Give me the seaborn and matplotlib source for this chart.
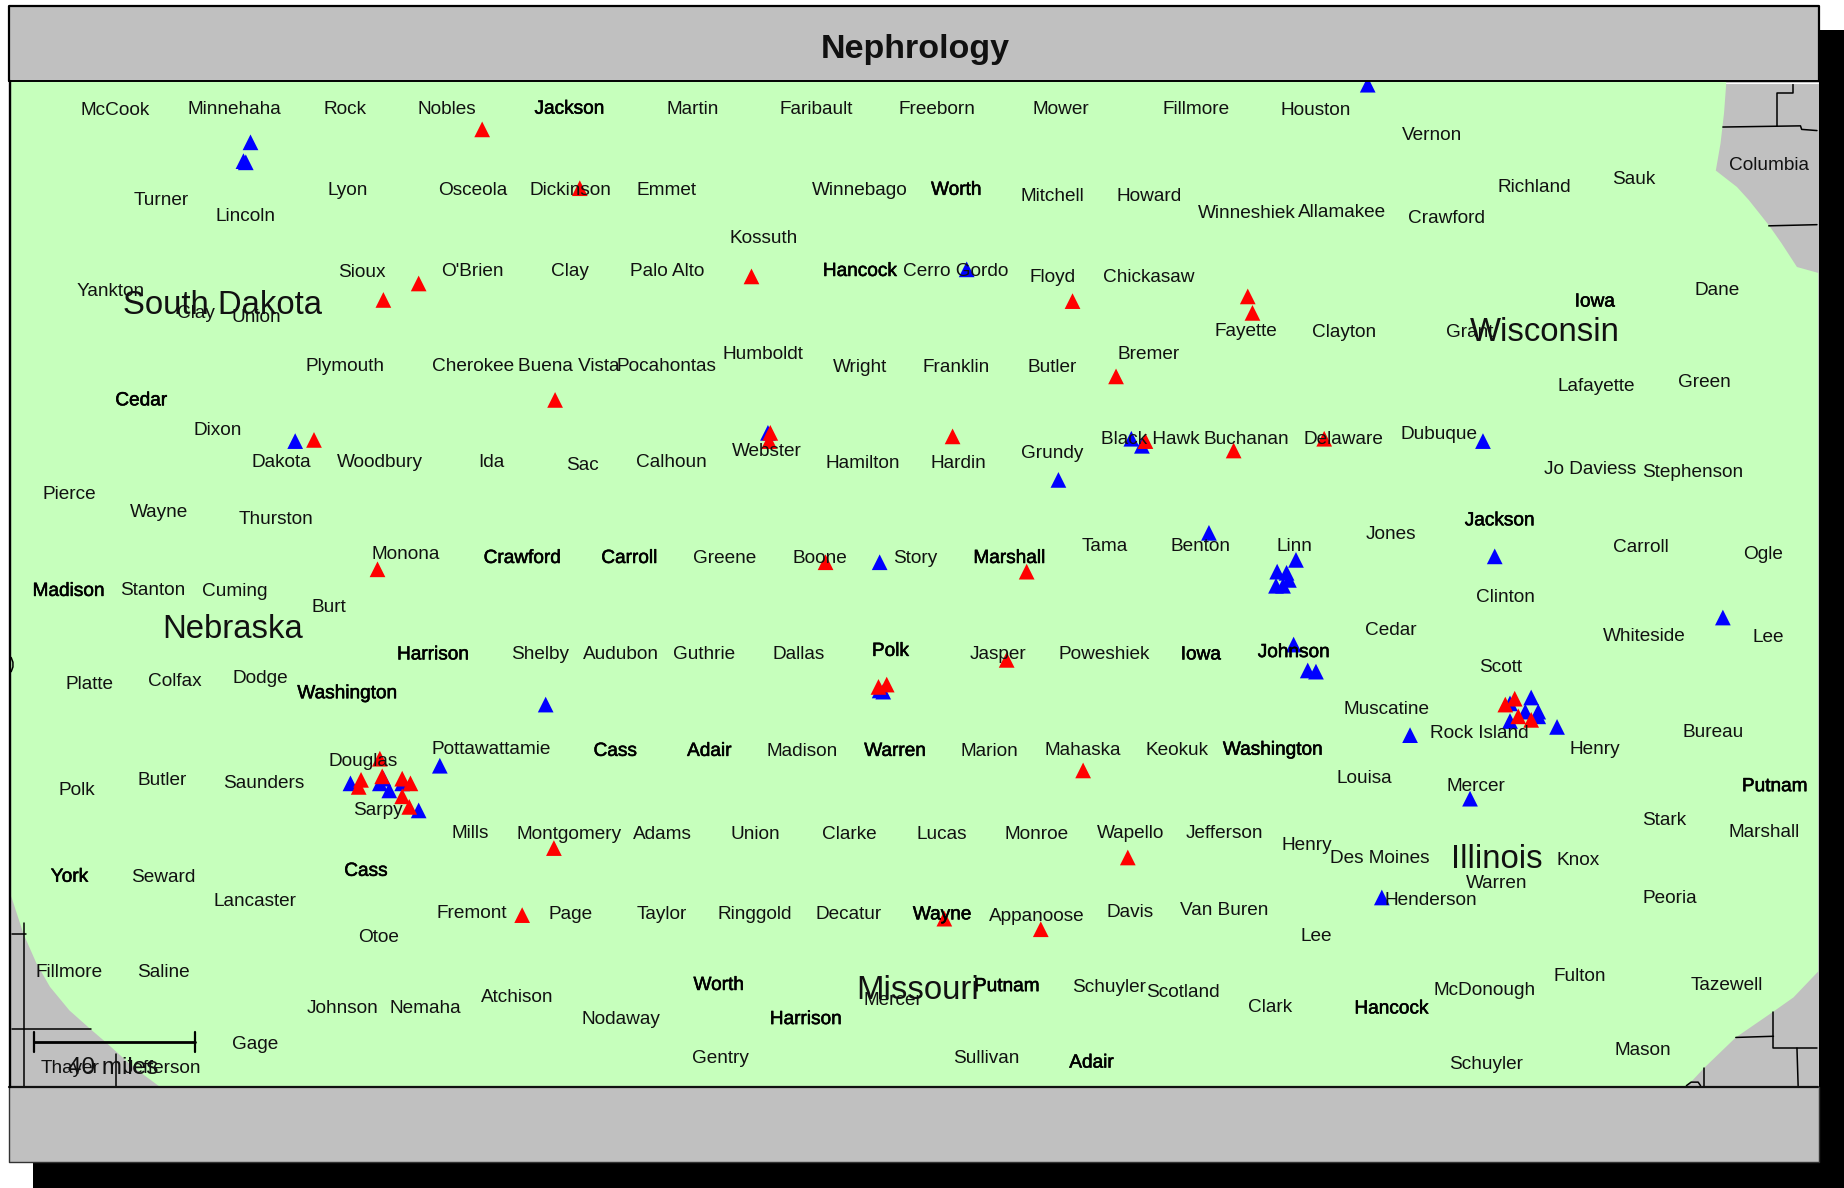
import matplotlib
matplotlib.use('Agg')
import matplotlib.pyplot as plt
import matplotlib.patheffects as pe
import pandas as pd
import seaborn as sns

title = 'Nephrology'

# map positions at 1568x1010
county_labels = [
    ('McCook',98,92),('Minnehaha',199,91),('Rock',293,91),('Nobles',380,91),('Martin',589,91),
    ('Faribault',694,91),('Freeborn',797,91),('Mower',902,91),('Fillmore',1017,91),('Houston',1119,92),
    ('Vernon',1218,113),('Columbia',1504,139),('Sauk',1389,151),('Richland',1305,158),('Crawford',1230,184),
    ('Allamakee',1141,179),('Winneshiek',1060,180),('Howard',977,165),('Mitchell',895,165),('Winnebago',731,160),
    ('Emmet',567,160),('Dickinson',485,160),('Osceola',402,160),('Lyon',296,160),('Turner',137,169),
    ('Lincoln',209,182),('Kossuth',649,201),('Yankton',94,246),('Clay',167,265),('Union',218,268),
    ('Sioux',308,230),("O'Brien",402,229),('Clay',485,229),('Palo Alto',567,229),('Cerro Gordo',813,229),
    ('Floyd',895,234),('Chickasaw',977,234),('Fayette',1059,280),('Clayton',1143,281),('Grant',1250,281),
    ('Dane',1460,245),('Green',1449,323),('Lafayette',1357,327),('Bremer',977,300),('Humboldt',649,300),
    ('Plymouth',293,310),('Cherokee',402,310),('Buena Vista',484,310),('Pocahontas',567,310),('Wright',731,311),
    ('Franklin',813,311),('Butler',895,311),('Dixon',185,364),('Black Hawk',978,372),('Buchanan',1060,372),
    ('Delaware',1142,372),('Dubuque',1224,368),('Jo Daviess',1352,397),('Stephenson',1439,400),('Grundy',895,384),
    ('Webster',652,382),('Hamilton',734,392),('Hardin',815,392),('Calhoun',571,391),('Sac',495,394),
    ('Ida',418,391),('Woodbury',323,391),('Dakota',239,391),('Pierce',59,419),('Wayne',135,434),
    ('Thurston',235,440),('Jones',1183,453),('Linn',1101,463),('Benton',1021,463),('Tama',939,463),
    ('Story',778,473),('Boone',697,473),('Greene',616,473),('Monona',345,470),('Carroll',1395,464),
    ('Ogle',1499,470),('Stanton',130,500),('Cuming',200,501),('Burt',280,515),('Clinton',1280,506),
    ('Whiteside',1398,539),('Lee',1504,540),('Cedar',1183,534),('Shelby',459,555),('Audubon',528,555),
    ('Guthrie',599,555),('Dallas',679,555),('Jasper',849,555),('Poweshiek',939,555),('Scott',1276,566),
    ('Platte',76,580),('Colfax',149,578),('Dodge',221,575),('Muscatine',1179,601),('Rock Island',1258,622),
    ('Bureau',1457,621),('Henry',1356,635),('Pottawattamie',418,635),('Madison',682,637),('Marion',841,637),
    ('Mahaska',921,636),('Keokuk',1001,636),('Douglas',309,646),('Butler',138,662),('Polk',65,670),
    ('Saunders',224,664),('Louisa',1160,660),('Mercer',1255,667),('Sarpy',321,687),('Stark',1415,696),
    ('Marshall',1500,706),('Mills',400,707),('Montgomery',484,708),('Adams',563,708),('Union',642,708),
    ('Clarke',722,708),('Lucas',801,708),('Monroe',881,708),('Wapello',961,707),('Jefferson',1041,707),
    ('Henry',1111,717),('Des Moines',1173,728),('Knox',1342,730),('Warren',1273,749),('Seward',139,744),
    ('Lancaster',217,765),('Henderson',1217,764),('Peoria',1420,762),('Fremont',401,775),('Page',485,776),
    ('Taylor',563,776),('Ringgold',642,776),('Decatur',722,776),('Appanoose',882,777),('Davis',961,774),
    ('Van Buren',1041,772),('Lee',1119,794),('Otoe',322,795),('Fillmore',59,825),('Saline',139,825),
    ('Fulton',1343,828),('Tazewell',1468,836),('McDonough',1262,840),('Schuyler',943,838),('Scotland',1006,842),
    ('Mercer',759,849),('Atchison',440,846),('Clark',1080,855),('Johnson',291,856),('Nemaha',362,856),
    ('Nodaway',528,865),('Gage',217,886),('Mason',1397,891),('Sullivan',839,898),('Gentry',613,898),
    ('Schuyler',1264,903),('Thayer',60,907),('Jefferson',138,907),
]
# these come out darker in the original, names that exist in two states
double_labels = [
    ('Jackson',484,91),('Worth',813,160),('Hancock',731,229),('Iowa',1356,255),('Cedar',120,339),
    ('Jackson',1275,441),('Marshall',858,473),('Carroll',535,473),('Crawford',444,473),('Madison',58,501),
    ('Harrison',368,555),('Polk',757,552),('Iowa',1021,555),('Johnson',1100,553),('Washington',295,588),
    ('Cass',523,637),('Adair',603,637),('Warren',761,637),('Washington',1082,636),('Putnam',1509,667),
    ('York',59,744),('Cass',311,739),('Wayne',801,776),('Worth',611,836),('Putnam',856,837),
    ('Hancock',1183,856),('Harrison',685,865),('Adair',928,902),
]
state_labels = [('South Dakota',189,258),('Nebraska',198,533),('Wisconsin',1314,281),
                ('Illinois',1273,729),('Missouri',780,840)]

red_x = [410,493,356,326,639,912,1061,1065,949,472,267,655,654,810,974,1049,1126,321,702,873,856,754,747,921,471,959,444,803,885]
red_y = [110,160,241,255,235,256,252,266,320,340,374,368,375,371,375,383,373,484,478,486,561,582,584,655,721,729,778,781,790]
blue_x = [1163,213,207,209,822,251,653,962,971,900,1261,1028,748,1271,1102,1086,1094,1096,1091,1085,1100,1112,1119,1465,464,748,751,1199,1250,1175,1284,1302,1308,1297,1308,1284,1324]
blue_y = [72,121,137,138,229,375,368,373,379,408,375,453,478,473,476,486,487,493,498,498,548,570,571,525,599,587,588,625,679,763,598,593,605,605,609,613,618]
# Omaha and Quad Cities clusters, red on top of part of the blue
omaha_blue_x = [326,298,323,331,342,356,374]
omaha_blue_y = [662,666,666,672,666,689,651]
omaha_red_x = [323,307,305,325,342,349,342,348]
omaha_red_y = [645,663,669,660,662,666,677,686]
quad_red_x = [1288,1280,1291,1302]
quad_red_y = [594,599,609,612]

grey_lines = [
    [(1525,71),(1525,79),(1511,79),(1511,107)],
    [(1465,108),(1531,107),(1532,110),(1545,111)],
    [(1504,192),(1545,191)],
    [(1508,860),(1508,891),(1545,891)],
    [(1476,882),(1508,881)],
    [(1528,891),(1529,923)],
    [(1449,908),(1449,923)],
    [(1434,923),(1438,920),(1444,920),(1446,923)],
    [(20.4,785),(20.4,924)],
    [(10,794),(22,794)],
    [(10,875),(77,875)],
    [(99,896),(99,924)],
    [(9.5,559),(11,563),(11,567),(9.5,571)],
]
green_outline = [
    (9.5,69),(1468,69),(1466,96),(1463,122),(1459,145),(1477,159),(1487,170),(1504.5,192),(1515,207),(1528,227),(1546,232),
    (1546,826),(1525,848),(1508,860),(1476,882),(1449,908),(1434,924),(136,924),(113,907),(91,887),(77,875),
    (59,859),(42.5,839),(31,819),(20,794),(9.5,762),
]

sns.set_theme(style='white')
plt.rcParams['font.family'] = ['Liberation Sans', 'DejaVu Sans']

fig = plt.figure(figsize=(18.44, 11.88), dpi=100)
ax = fig.add_axes([0, 0, 1, 1])
ax.set_xlim(0, 1568)
ax.set_ylim(1010, 0)
ax.axis('off')

# drop shadow, then grey frame, then the map
ax.fill_between([28, 1568], 25.5, 1010, color='black', lw=0, zorder=0)
ax.fill_between([8, 1546.5], 5, 988, color='#c0c0c0', lw=0, zorder=1)
xs, ys = zip(*green_outline)
ax.fill(xs, ys, color='#c6ffbc', lw=0, zorder=2)
for line in grey_lines:
    lx, ly = zip(*line)
    ax.plot(lx, ly, color='black', lw=1.1, zorder=3)
ax.plot([1468, 1546], [70.2, 70.2], color='white', lw=0.8, zorder=3)

pts = pd.DataFrame({
    'x': blue_x + red_x + omaha_blue_x + omaha_red_x + quad_red_x,
    'y': blue_y + red_y + omaha_blue_y + omaha_red_y + quad_red_y,
    'group': ['blue'] * len(blue_x) + ['red'] * len(red_x) + ['blue'] * len(omaha_blue_x)
             + ['red'] * len(omaha_red_x) + ['red'] * len(quad_red_x),
})
sns.scatterplot(data=pts, x='x', y='y', hue='group', palette={'red': '#ff0000', 'blue': '#0000ff'},
                marker='^', s=128, linewidth=0, legend=False, ax=ax, zorder=4)
ax.set_xlim(0, 1568)
ax.set_ylim(1010, 0)
ax.axis('off')

text_drop = 1.8  # text centre sits a bit under the va='center' spot
for name, x, y in county_labels:
    ax.text(x, y + text_drop, name, fontsize=13.7, color='#111111', ha='center', va='center', zorder=5)
for name, x, y in double_labels:
    ax.text(x, y + text_drop, name, fontsize=13.7, color='black', ha='center', va='center', zorder=5,
            path_effects=[pe.withStroke(linewidth=0.4, foreground='black')])
for name, x, y in state_labels:
    ax.text(x, y + text_drop, name, fontsize=23.7, color='#111111', ha='center', va='center', zorder=5)

# title and bottom bands sit over the markers
ax.fill_between([8, 1546.5], 5, 69, color='#c0c0c0', lw=0, zorder=6)
ax.plot([8, 8, 1546.5, 1546.5], [69, 5, 5, 69], color='black', lw=1.6, zorder=7)
ax.plot([8, 1546.5], [69, 69], color='black', lw=1.4, zorder=7)
ax.plot([8, 1546], [924, 924], color='#111111', lw=1.6, zorder=7)
ax.plot([8.2, 8.2], [69, 924], color='black', lw=1.7, zorder=7)
ax.plot([8, 8, 1546.5, 1546.5], [924, 988, 988, 924], color='#333333', lw=1.0, zorder=3)
ax.text(778, 42, title, fontsize=24.5, fontweight='bold', color='#111111', ha='center', va='center', zorder=8)

# scale bar
ax.plot([29, 166], [885.5, 885.5], color='black', lw=2, zorder=5)
ax.plot([29, 29], [877, 894], color='black', lw=1.6, zorder=5)
ax.plot([166, 166], [877, 894], color='black', lw=1.6, zorder=5)
ax.text(96, 908, '40 miles', fontsize=17.5, color='#111111', ha='center', va='center', zorder=5)

fig.savefig('out.png', dpi=100, facecolor='white')
